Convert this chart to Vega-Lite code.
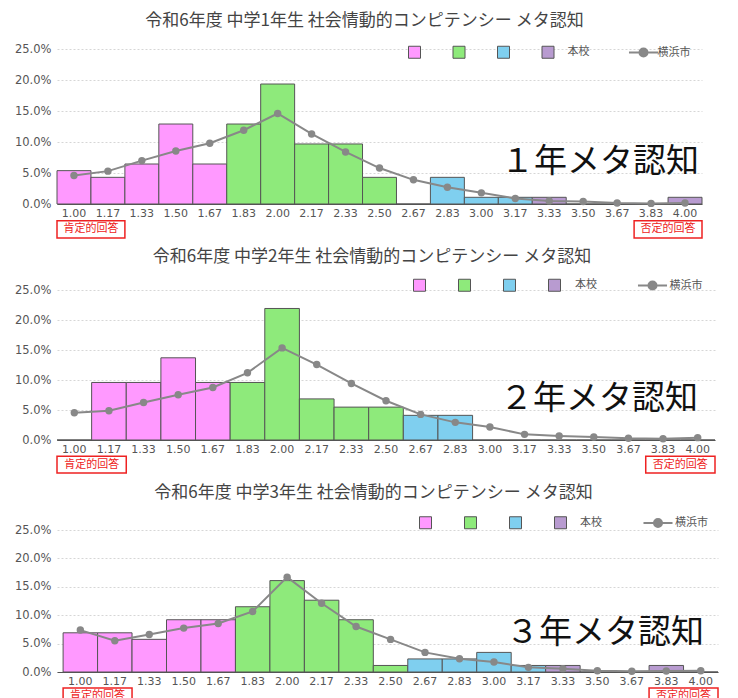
{
  "$schema": "https://vega.github.io/schema/vega-lite/v6.json",
  "padding": {"left": 0, "top": 12, "right": 0, "bottom": 0},
  "background": "white",
  "config": {
    "view": {"stroke": null},
    "title": {"font": "Noto Sans CJK JP", "fontSize": 17, "fontWeight": "normal", "color": "#444"},
    "axis": {"labelFont": "DejaVu Sans", "labelFontSize": 11, "labelColor": "#555", "ticks": false},
    "axisX": {"domainColor": "#555", "labelPadding": 3, "grid": false},
    "axisY": {"domain": false, "gridColor": "#d6d6d6", "gridDash": [2, 2], "labelPadding": 6, "labelOverlap": false, "labelFontSize": 11.5},
    "legend": {"padding": 0, "labelFont": "Noto Sans CJK JP", "labelFontSize": 11, "labelColor": "#555"}
  },
  "datasets": {
    "p1": [
      {"score": "1.00", "school": 0.0538, "city": 0.046, "grp": "a"},
      {"score": "1.17", "school": 0.0430, "city": 0.053, "grp": "a"},
      {"score": "1.33", "school": 0.0645, "city": 0.070, "grp": "a"},
      {"score": "1.50", "school": 0.1290, "city": 0.0855, "grp": "a"},
      {"score": "1.67", "school": 0.0645, "city": 0.098, "grp": "a"},
      {"score": "1.83", "school": 0.1290, "city": 0.119, "grp": "b"},
      {"score": "2.00", "school": 0.1935, "city": 0.146, "grp": "b"},
      {"score": "2.17", "school": 0.0968, "city": 0.113, "grp": "b"},
      {"score": "2.33", "school": 0.0968, "city": 0.084, "grp": "b"},
      {"score": "2.50", "school": 0.0430, "city": 0.058, "grp": "b"},
      {"score": "2.67", "school": 0, "city": 0.039, "grp": "c"},
      {"score": "2.83", "school": 0.0430, "city": 0.027, "grp": "c"},
      {"score": "3.00", "school": 0.0108, "city": 0.018, "grp": "c"},
      {"score": "3.17", "school": 0.0108, "city": 0.009, "grp": "c"},
      {"score": "3.33", "school": 0.0108, "city": 0.005, "grp": "本校"},
      {"score": "3.50", "school": 0, "city": 0.004, "grp": "本校"},
      {"score": "3.67", "school": 0, "city": 0.0015, "grp": "本校"},
      {"score": "3.83", "school": 0, "city": 0.001, "grp": "本校"},
      {"score": "4.00", "school": 0.0108, "city": 0.0015, "grp": "本校"}
    ],
    "p2": [
      {"score": "1.00", "school": 0, "city": 0.0455, "grp": "a"},
      {"score": "1.17", "school": 0.0959, "city": 0.0488, "grp": "a"},
      {"score": "1.33", "school": 0.0959, "city": 0.0626, "grp": "a"},
      {"score": "1.50", "school": 0.1370, "city": 0.0754, "grp": "a"},
      {"score": "1.67", "school": 0.0959, "city": 0.0876, "grp": "a"},
      {"score": "1.83", "school": 0.0959, "city": 0.112, "grp": "b"},
      {"score": "2.00", "school": 0.2192, "city": 0.1535, "grp": "b"},
      {"score": "2.17", "school": 0.0685, "city": 0.1258, "grp": "b"},
      {"score": "2.33", "school": 0.0548, "city": 0.0942, "grp": "b"},
      {"score": "2.50", "school": 0.0548, "city": 0.0654, "grp": "b"},
      {"score": "2.67", "school": 0.0411, "city": 0.0427, "grp": "c"},
      {"score": "2.83", "school": 0.0411, "city": 0.0294, "grp": "c"},
      {"score": "3.00", "school": 0, "city": 0.0216, "grp": "c"},
      {"score": "3.17", "school": 0, "city": 0.0094, "grp": "c"},
      {"score": "3.33", "school": 0, "city": 0.0067, "grp": "本校"},
      {"score": "3.50", "school": 0, "city": 0.005, "grp": "本校"},
      {"score": "3.67", "school": 0, "city": 0.0028, "grp": "本校"},
      {"score": "3.83", "school": 0, "city": 0.0022, "grp": "本校"},
      {"score": "4.00", "school": 0, "city": 0.0039, "grp": "本校"}
    ],
    "p3": [
      {"score": "1.00", "school": 0.0690, "city": 0.0738, "grp": "a"},
      {"score": "1.17", "school": 0.0690, "city": 0.055, "grp": "a"},
      {"score": "1.33", "school": 0.0575, "city": 0.066, "grp": "a"},
      {"score": "1.50", "school": 0.0920, "city": 0.0773, "grp": "a"},
      {"score": "1.67", "school": 0.0920, "city": 0.0855, "grp": "a"},
      {"score": "1.83", "school": 0.1149, "city": 0.1066, "grp": "b"},
      {"score": "2.00", "school": 0.1609, "city": 0.167, "grp": "b"},
      {"score": "2.17", "school": 0.1264, "city": 0.121, "grp": "b"},
      {"score": "2.33", "school": 0.0920, "city": 0.080, "grp": "b"},
      {"score": "2.50", "school": 0.0115, "city": 0.0574, "grp": "b"},
      {"score": "2.67", "school": 0.0230, "city": 0.0345, "grp": "c"},
      {"score": "2.83", "school": 0.0230, "city": 0.0234, "grp": "c"},
      {"score": "3.00", "school": 0.0345, "city": 0.0176, "grp": "c"},
      {"score": "3.17", "school": 0.0115, "city": 0.0082, "grp": "c"},
      {"score": "3.33", "school": 0.0115, "city": 0.0059, "grp": "本校"},
      {"score": "3.50", "school": 0, "city": 0.0023, "grp": "本校"},
      {"score": "3.67", "school": 0, "city": 0.0012, "grp": "本校"},
      {"score": "3.83", "school": 0.0115, "city": 0.0018, "grp": "本校"},
      {"score": "4.00", "school": 0, "city": 0.0023, "grp": "本校"}
    ],
    "boxes": [
      {"label": "肯定的回答", "from": "1.00", "to": "1.17"},
      {"label": "否定的回答", "from": "3.83", "to": "4.00"}
    ]
  },
  "columns": 1,
  "align": "none",
  "bounds": "full",
  "spacing": 9,
  "resolve": {
    "scale": {"x": "independent", "y": "independent", "color": "independent", "stroke": "independent"},
    "legend": {"color": "independent", "stroke": "independent"}
  },
  "concat": [
    {
      "width": 645, "height": 155,
      "title": {"text": "令和6年度 中学1年生 社会情動的コンピテンシー メタ認知", "frame": "group", "dx": -15, "offset": 13},
      "data": {"name": "p1"},
      "layer": [
        {
          "mark": {"type": "bar", "stroke": "#555", "strokeWidth": 1},
          "encoding": {
            "x": {"field": "score", "type": "nominal", "title": null, "scale": {"domain": ["1.00","1.17","1.33","1.50","1.67","1.83","2.00","2.17","2.33","2.50","2.67","2.83","3.00","3.17","3.33","3.50","3.67","3.83","4.00"], "paddingInner": 0, "paddingOuter": 0}, "axis": {"labelAngle": 0, "title": null}},
            "y": {"field": "school", "type": "quantitative", "title": null, "scale": {"domain": [0, 0.25], "nice": false}, "axis": {"values": [0, 0.05, 0.1, 0.15, 0.2, 0.25], "format": ".1%", "title": null, "minExtent": 57}},
            "color": {"field": "grp", "type": "nominal", "scale": {"domain": ["a", "b", "c", "本校"], "range": ["#ff99ff", "#8eea7b", "#7fcfef", "#b89bd0"]},
              "legend": {"orient": "none", "legendX": 351, "legendY": -3.5, "direction": "horizontal", "title": null, "symbolType": "square", "symbolSize": 144, "symbolStrokeColor": "#555", "symbolStrokeWidth": 1, "columnPadding": 16.5, "labelOffset": 13, "labelExpr": "datum.label == '本校' ? '本校' : ''"}}
          }
        },
        {
          "mark": {"type": "line", "strokeWidth": 2},
          "encoding": {
            "x": {"field": "score", "type": "nominal", "title": null},
            "y": {"field": "city", "type": "quantitative", "title": null, "axis": {"values": [0, 0.05, 0.1, 0.15, 0.2, 0.25], "format": ".1%", "title": null, "minExtent": 57}},
            "stroke": {"datum": "横浜市", "scale": {"domain": ["横浜市"], "range": ["#888888"]},
              "legend": {"orient": "none", "legendX": 579.5, "legendY": -3.5, "title": null, "symbolType": "M-2.42,0H2.42M-0.67,0A0.67,0.67,0,1,1,0.67,0A0.67,0.67,0,1,1,-0.67,0Z", "symbolSize": 144, "symbolStrokeWidth": 2, "labelOffset": 7, "encode": {"symbols": {"update": {"fill": {"value": "#888888"}, "stroke": {"value": "#888888"}}}}}}
          }
        },
        {
          "mark": {"type": "circle", "color": "#888888", "size": 55, "opacity": 1},
          "encoding": {
            "x": {"field": "score", "type": "nominal", "title": null},
            "y": {"field": "city", "type": "quantitative", "title": null, "axis": {"values": [0, 0.05, 0.1, 0.15, 0.2, 0.25], "format": ".1%", "title": null, "minExtent": 57}}
          }
        },
        {
          "data": {"values": [{"label": "１年メタ認知"}]},
          "mark": {"type": "text", "align": "right", "baseline": "middle", "fontSize": 33, "font": "Noto Sans CJK JP", "color": "#111", "dx": -3},
          "encoding": {
            "x": {"datum": "4.00", "bandPosition": 1, "title": null},
            "y": {"datum": 0.067, "title": null, "axis": {"values": [0, 0.05, 0.1, 0.15, 0.2, 0.25], "format": ".1%", "title": null, "minExtent": 57}},
            "text": {"field": "label"}
          }
        },
        {
          "data": {"name": "boxes"},
          "mark": {"type": "rect", "fill": "white", "stroke": "#ee2222", "strokeWidth": 1.5},
          "encoding": {
            "x": {"field": "from", "type": "nominal", "bandPosition": 0, "title": null},
            "x2": {"field": "to", "bandPosition": 1},
            "y": {"datum": -0.027, "title": null, "axis": {"values": [0, 0.05, 0.1, 0.15, 0.2, 0.25], "format": ".1%", "title": null, "minExtent": 57}},
            "y2": {"datum": -0.055}
          }
        },
        {
          "data": {"name": "boxes"},
          "mark": {"type": "text", "align": "center", "baseline": "middle", "fontSize": 11, "font": "Noto Sans CJK JP", "color": "#ee2222"},
          "encoding": {
            "x": {"field": "to", "type": "nominal", "bandPosition": 0, "title": null},
            "y": {"datum": -0.041, "title": null, "axis": {"values": [0, 0.05, 0.1, 0.15, 0.2, 0.25], "format": ".1%", "title": null, "minExtent": 57}},
            "text": {"field": "label"}
          }
        }
      ]
    },
    {
      "width": 658, "height": 150,
      "title": {"text": "令和6年度 中学2年生 社会情動的コンピテンシー メタ認知", "frame": "group", "dx": -14, "offset": 12.5},
      "data": {"name": "p2"},
      "layer": [
        {
          "mark": {"type": "bar", "stroke": "#555", "strokeWidth": 1},
          "encoding": {
            "x": {"field": "score", "type": "nominal", "title": null, "scale": {"domain": ["1.00","1.17","1.33","1.50","1.67","1.83","2.00","2.17","2.33","2.50","2.67","2.83","3.00","3.17","3.33","3.50","3.67","3.83","4.00"], "paddingInner": 0, "paddingOuter": 0}, "axis": {"labelAngle": 0, "title": null}},
            "y": {"field": "school", "type": "quantitative", "title": null, "scale": {"domain": [0, 0.25], "nice": false}, "axis": {"values": [0, 0.05, 0.1, 0.15, 0.2, 0.25], "format": ".1%", "title": null, "minExtent": 57}},
            "color": {"field": "grp", "type": "nominal", "scale": {"domain": ["a", "b", "c", "本校"], "range": ["#ff99ff", "#8eea7b", "#7fcfef", "#b89bd0"]},
              "legend": {"orient": "none", "legendX": 356, "legendY": -11.5, "direction": "horizontal", "title": null, "symbolType": "square", "symbolSize": 144, "symbolStrokeColor": "#555", "symbolStrokeWidth": 1, "columnPadding": 16, "labelOffset": 14, "labelExpr": "datum.label == '本校' ? '本校' : ''"}}
          }
        },
        {
          "mark": {"type": "line", "strokeWidth": 2},
          "encoding": {
            "x": {"field": "score", "type": "nominal", "title": null},
            "y": {"field": "city", "type": "quantitative", "title": null, "axis": {"values": [0, 0.05, 0.1, 0.15, 0.2, 0.25], "format": ".1%", "title": null, "minExtent": 57}},
            "stroke": {"datum": "横浜市", "scale": {"domain": ["横浜市"], "range": ["#888888"]},
              "legend": {"orient": "none", "legendX": 588.5, "legendY": -11.5, "title": null, "symbolType": "M-2.42,0H2.42M-0.67,0A0.67,0.67,0,1,1,0.67,0A0.67,0.67,0,1,1,-0.67,0Z", "symbolSize": 144, "symbolStrokeWidth": 2, "labelOffset": 10, "encode": {"symbols": {"update": {"fill": {"value": "#888888"}, "stroke": {"value": "#888888"}}}}}}
          }
        },
        {
          "mark": {"type": "circle", "color": "#888888", "size": 55, "opacity": 1},
          "encoding": {
            "x": {"field": "score", "type": "nominal", "title": null},
            "y": {"field": "city", "type": "quantitative", "title": null, "axis": {"values": [0, 0.05, 0.1, 0.15, 0.2, 0.25], "format": ".1%", "title": null, "minExtent": 57}}
          }
        },
        {
          "data": {"values": [{"label": "２年メタ認知"}]},
          "mark": {"type": "text", "align": "right", "baseline": "middle", "fontSize": 33, "font": "Noto Sans CJK JP", "color": "#111", "dx": -17},
          "encoding": {
            "x": {"datum": "4.00", "bandPosition": 1, "title": null},
            "y": {"datum": 0.0685, "title": null, "axis": {"values": [0, 0.05, 0.1, 0.15, 0.2, 0.25], "format": ".1%", "title": null, "minExtent": 57}},
            "text": {"field": "label"}
          }
        },
        {
          "data": {"name": "boxes"},
          "mark": {"type": "rect", "fill": "white", "stroke": "#ee2222", "strokeWidth": 1.5},
          "encoding": {
            "x": {"field": "from", "type": "nominal", "bandPosition": 0, "title": null},
            "x2": {"field": "to", "bandPosition": 1},
            "y": {"datum": -0.027, "title": null, "axis": {"values": [0, 0.05, 0.1, 0.15, 0.2, 0.25], "format": ".1%", "title": null, "minExtent": 57}},
            "y2": {"datum": -0.055}
          }
        },
        {
          "data": {"name": "boxes"},
          "mark": {"type": "text", "align": "center", "baseline": "middle", "fontSize": 11, "font": "Noto Sans CJK JP", "color": "#ee2222"},
          "encoding": {
            "x": {"field": "to", "type": "nominal", "bandPosition": 0, "title": null},
            "y": {"datum": -0.041, "title": null, "axis": {"values": [0, 0.05, 0.1, 0.15, 0.2, 0.25], "format": ".1%", "title": null, "minExtent": 57}},
            "text": {"field": "label"}
          }
        }
      ]
    },
    {
      "width": 661, "height": 142,
      "title": {"text": "令和6年度 中学3年生 社会情動的コンピテンシー メタ認知", "frame": "group", "dx": -14, "offset": 14.5},
      "data": {"name": "p3"},
      "layer": [
        {
          "mark": {"type": "bar", "stroke": "#555", "strokeWidth": 1},
          "encoding": {
            "x": {"field": "score", "type": "nominal", "title": null, "scale": {"domain": ["1.00","1.17","1.33","1.50","1.67","1.83","2.00","2.17","2.33","2.50","2.67","2.83","3.00","3.17","3.33","3.50","3.67","3.83","4.00"], "paddingInner": 0, "paddingOuter": 0.0885, "align": 1}, "axis": {"labelAngle": 0, "title": null}},
            "y": {"field": "school", "type": "quantitative", "title": null, "scale": {"domain": [0, 0.25], "nice": false}, "axis": {"values": [0, 0.05, 0.1, 0.15, 0.2, 0.25], "format": ".1%", "title": null, "minExtent": 57}},
            "color": {"field": "grp", "type": "nominal", "scale": {"domain": ["a", "b", "c", "本校"], "range": ["#ff99ff", "#8eea7b", "#7fcfef", "#b89bd0"]},
              "legend": {"orient": "none", "legendX": 362, "legendY": -14, "direction": "horizontal", "title": null, "symbolType": "square", "symbolSize": 144, "symbolStrokeColor": "#555", "symbolStrokeWidth": 1, "columnPadding": 17, "labelOffset": 13, "labelExpr": "datum.label == '本校' ? '本校' : ''"}}
          }
        },
        {
          "mark": {"type": "line", "strokeWidth": 2},
          "encoding": {
            "x": {"field": "score", "type": "nominal", "title": null},
            "y": {"field": "city", "type": "quantitative", "title": null, "axis": {"values": [0, 0.05, 0.1, 0.15, 0.2, 0.25], "format": ".1%", "title": null, "minExtent": 57}},
            "stroke": {"datum": "横浜市", "scale": {"domain": ["横浜市"], "range": ["#888888"]},
              "legend": {"orient": "none", "legendX": 594, "legendY": -14, "title": null, "symbolType": "M-2.42,0H2.42M-0.67,0A0.67,0.67,0,1,1,0.67,0A0.67,0.67,0,1,1,-0.67,0Z", "symbolSize": 144, "symbolStrokeWidth": 2, "labelOffset": 10, "encode": {"symbols": {"update": {"fill": {"value": "#888888"}, "stroke": {"value": "#888888"}}}}}}
          }
        },
        {
          "mark": {"type": "circle", "color": "#888888", "size": 55, "opacity": 1},
          "encoding": {
            "x": {"field": "score", "type": "nominal", "title": null},
            "y": {"field": "city", "type": "quantitative", "title": null, "axis": {"values": [0, 0.05, 0.1, 0.15, 0.2, 0.25], "format": ".1%", "title": null, "minExtent": 57}}
          }
        },
        {
          "data": {"values": [{"label": "３年メタ認知"}]},
          "mark": {"type": "text", "align": "right", "baseline": "middle", "fontSize": 33, "font": "Noto Sans CJK JP", "color": "#111", "dx": -14},
          "encoding": {
            "x": {"datum": "4.00", "bandPosition": 1, "title": null},
            "y": {"datum": 0.0694, "title": null, "axis": {"values": [0, 0.05, 0.1, 0.15, 0.2, 0.25], "format": ".1%", "title": null, "minExtent": 57}},
            "text": {"field": "label"}
          }
        },
        {
          "data": {"name": "boxes"},
          "mark": {"type": "rect", "fill": "white", "stroke": "#ee2222", "strokeWidth": 1.5},
          "encoding": {
            "x": {"field": "from", "type": "nominal", "bandPosition": 0, "title": null},
            "x2": {"field": "to", "bandPosition": 1},
            "y": {"datum": -0.028, "title": null, "axis": {"values": [0, 0.05, 0.1, 0.15, 0.2, 0.25], "format": ".1%", "title": null, "minExtent": 57}},
            "y2": {"datum": -0.056}
          }
        },
        {
          "data": {"name": "boxes"},
          "mark": {"type": "text", "align": "center", "baseline": "middle", "fontSize": 11, "font": "Noto Sans CJK JP", "color": "#ee2222"},
          "encoding": {
            "x": {"field": "to", "type": "nominal", "bandPosition": 0, "title": null},
            "y": {"datum": -0.042, "title": null, "axis": {"values": [0, 0.05, 0.1, 0.15, 0.2, 0.25], "format": ".1%", "title": null, "minExtent": 57}},
            "text": {"field": "label"}
          }
        }
      ]
    }
  ]
}
